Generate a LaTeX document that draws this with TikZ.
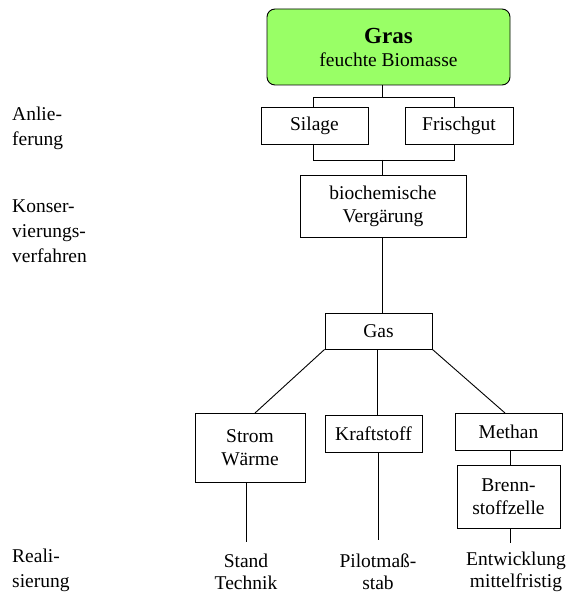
\documentclass[tikz,border=0pt]{standalone}
\usepackage{fontspec}
\setmainfont{Liberation Serif}
\begin{document}
\begin{tikzpicture}[x=1pt,y=-1pt,
  box/.style={draw,line width=0.9pt,inner sep=0pt,align=center,font=\fontsize{19.5}{23}\selectfont},
  lbl/.style={inner sep=0pt,align=center,font=\fontsize{19.5}{22}\selectfont},
  side/.style={inner sep=0pt,align=left,anchor=north west,font=\fontsize{19.5}{25}\selectfont},
  ln/.style={line width=0.9pt}]
\useasboundingbox (0,0) rectangle (570,596);
% nodes
\node[box,fill={rgb,255:red,153;green,255;blue,102},rounded corners=8pt,minimum width=243pt,minimum height=76pt] (gras) at (388.5,47)
  {{\fontsize{23}{26}\selectfont\bfseries Gras}\\feuchte Biomasse};
\node[box,minimum width=107pt,minimum height=37pt] (silage) at (314.5,125.5) {Silage};
\node[box,minimum width=108pt,minimum height=37pt] (frisch) at (459,125.5) {Frischgut};
\node[box,minimum width=166pt,minimum height=62pt] (bio) at (383,206) {biochemische\\Vergärung};
\node[box,minimum width=107pt,minimum height=36pt] (gas) at (378.5,331) {Gas};
\node[box,minimum width=110pt,minimum height=69pt] (strom) at (250,447.5) {Strom\\Wärme};
\node[box,minimum width=97pt,minimum height=37pt] (kraft) at (373.5,433.5) {Kraftstoff};
\node[box,minimum width=107pt,minimum height=37pt] (methan) at (508.5,431.5) {Methan};
\node[box,minimum width=103pt,minimum height=63pt] (brenn) at (508.5,496.5) {Brenn-\\stoffzelle};
% bottom labels
\node[lbl] (stand) at (246,572) {Stand\\Technik};
\node[lbl] (pilot) at (378,572) {Pilotmaß-\\stab};
\node[lbl] (entw) at (516,572) {Entwicklung\\mittelfristig};
% side labels
\node[side] (anl) at (12,107) {Anlie-\\ferung};
\node[side] (kon) at (12,200) {Konser-\\vierungs-\\verfahren};
\node[side] (real) at (12,549) {Reali-\\sierung};
% coordinates
\coordinate (g1) at (382,85);
\coordinate (g2) at (382,97);
\coordinate (gL) at (313,97);
\coordinate (gR) at (454,97);
\coordinate (sB) at (313,144);
\coordinate (fB) at (454,144);
\coordinate (jL) at (313,160);
\coordinate (jR) at (454,160);
\coordinate (jM) at (382,160);
\coordinate (bT) at (382,175);
\coordinate (bB) at (382,237);
\coordinate (gT) at (382,313);
\coordinate (sT) at (255,413);
\coordinate (mT) at (505,413);
\coordinate (gM) at (377,349);
\coordinate (kT) at (377,415);
\coordinate (sE) at (246,542);
\coordinate (kE) at (378,540);
\coordinate (bE) at (510,543);
% connectors
\draw[ln] (g1) -- (g2);
\draw[ln] (gL |- silage.north) -- (gL) -- (gR) -- (gR |- frisch.north);
\draw[ln] (sB) -- (jL) -- (jR) -- (fB);
\draw[ln] (jM) -- (bT);
\draw[ln] (bB) -- (gT);
\draw[ln] (gas.south west) -- (sT);
\draw[ln] (gas.south east) -- (mT);
\draw[ln] (gM) -- (kT);
\draw[ln] (methan.south -| bE) -- (brenn.north -| bE);
\draw[ln] (brenn.south -| bE) -- (bE);
\draw[ln] (strom.south -| sE) -- (sE);
\draw[ln] (kraft.south -| kE) -- (kE);
\end{tikzpicture}
\end{document}
